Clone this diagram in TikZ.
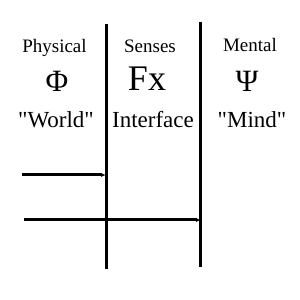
\documentclass[tikz,border=0pt]{standalone}
\usepackage{fontspec}
\setmainfont{Liberation Serif}[Ligatures=TeXOff]
\usepackage{tikz}
\usetikzlibrary{arrows.meta,positioning}
\tikzset{
  >={Latex[length=5pt,width=4pt]},
  heading/.style={anchor=base,inner sep=0pt,font=\fontsize{19}{22}\selectfont},
  symbol/.style={anchor=base,inner sep=0pt,font=\fontsize{31}{34}\selectfont},
  caption/.style={anchor=base,inner sep=0pt,font=\fontsize{23}{26}\selectfont},
  divider/.style={line width=3pt},
  signal/.style={->,line width=3pt}
}

\begin{document}
\begin{tikzpicture}[x=1pt,y=1pt]
  \useasboundingbox (0,0) rectangle (300,300);

  % columns
  \node[heading] (phys) at (54.5,247) {Physical};
  \node[heading] (sens) at (150,247) {Senses};
  \node[heading] (ment) at (250,248) {Mental};

  \node[symbol] (phi) at (57,208) {Φ};
  \node[symbol,font=\fontsize{36}{40}\selectfont] (fx) at (147,209) {Fx};
  \node[symbol] (psi) at (247,208) {Ψ};

  \node[caption] (world) at (56,172) {"World"};
  \node[caption] (iface) at (153,172) {Interface};
  \node[caption] (mind) at (252,172) {"Mind"};

  % dividers
  \coordinate (d1top) at (106,276);
  \coordinate (d1bot) at (106,31);
  \coordinate (d2top) at (200,278);
  \coordinate (d2bot) at (200,33);
  \draw[divider] (d1top) -- (d1bot);
  \draw[divider] (d2top) -- (d2bot);

  % signals
  \coordinate (s1) at (22,125);
  \coordinate (e1) at (106,125);
  \coordinate (s2) at (24,80);
  \coordinate (e2) at (201,80);
  \draw[signal] (s1) -- (e1);
  \draw[signal] (s2) -- (e2);
\end{tikzpicture}
\end{document}
